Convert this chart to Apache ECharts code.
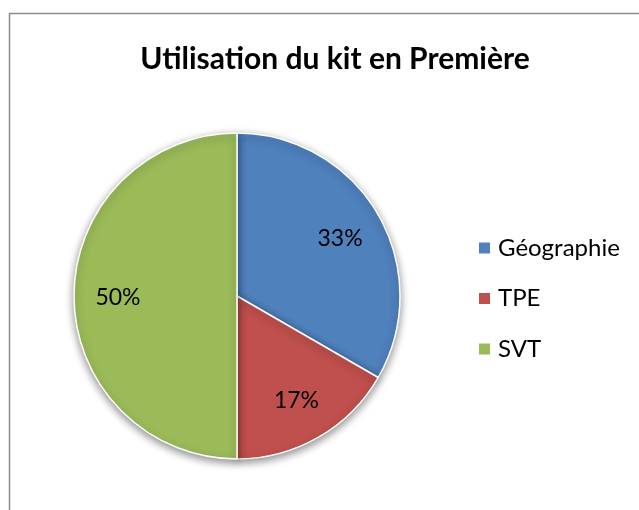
<!DOCTYPE html>
<html>
<head>
<meta charset="utf-8">
<script src="https://cdn.jsdelivr.net/npm/echarts@6/dist/echarts.min.js"></script>
<style>
  html, body { margin: 0; padding: 0; background: #fff; }
  #chart { width: 639px; height: 510px; }
</style>
</head>
<body>
<div id="chart"></div>
<script>
const categories = ["Géographie", "TPE", "SVT"];
const values = [2, 1, 3];
const colors = ["#4F81BD", "#C0504D", "#9BBB59"];

const pieData = categories.map((name, i) => ({
    name,
    value: values[i],
    itemStyle: { color: colors[i] }
}));

const chart = echarts.init(document.getElementById("chart"));

const font = "Lato, 'Open Sans', sans-serif";

chart.setOption({
    animation: false,
    title: {
        text: "Utilisation du kit en Première",
        left: 330,
        textAlign: "center",
        top: 39,
        textStyle: { fontFamily: font, fontSize: 30, fontWeight: "bold", color: "#000" }
    },
    legend: {
        orient: "vertical",
        left: 472,
        top: 231,
        itemWidth: 13,
        itemHeight: 13,
        itemGap: 26.5,
        icon: "rect",
        data: categories,
        textStyle: { fontFamily: font, fontSize: 24, lineHeight: 24, color: "#000", padding: [0, 0, 0, 2] }
    },
    graphic: [{
        type: "rect",
        shape: { x: 9.5, y: 13.5, width: 700, height: 600 },
        style: { fill: "none", stroke: "#8c8c8c", lineWidth: 1.5 },
        silent: true,
        z: -1
    }],
    series: [
        {
            type: "pie",
            center: [237, 296],
            radius: [0, 163],
            startAngle: 90,
            clockwise: true,
            label: { show: false },
            labelLine: { show: false },
            itemStyle: {
                borderColor: "#fff",
                borderWidth: 1.5,
                shadowBlur: 8,
                shadowOffsetY: 3,
                shadowColor: "rgba(0,0,0,0.45)"
            },
            data: pieData
        },
        {
            type: "pie",
            center: [237, 298],
            radius: [0, 232],
            startAngle: 90,
            clockwise: true,
            silent: true,
            z: 5,
            itemStyle: { color: "transparent", borderWidth: 0 },
            label: {
                show: true,
                position: "inside",
                formatter: (p) => Math.round(p.percent) + "%",
                fontFamily: font,
                fontSize: 23,
                color: "#000"
            },
            labelLine: { show: false },
            data: categories.map((name, i) => ({ name, value: values[i] }))
        }
    ]
});
</script>
</body>
</html>
